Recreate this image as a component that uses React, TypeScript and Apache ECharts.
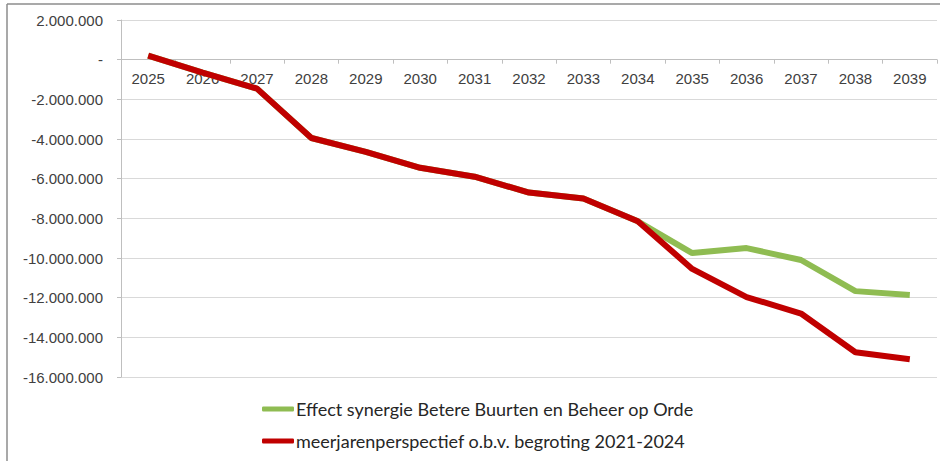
import React, { useEffect, useRef } from "react";
import * as echarts from "echarts";

const years = ["2025","2026","2027","2028","2029","2030","2031","2032","2033","2034","2035","2036","2037","2038","2039"];
const effectSynergie = [200000, -650000, -1460000, -3950000, -4650000, -5450000, -5900000, -6700000, -7000000, -8150000, -9750000, -9500000, -10100000, -11670000, -11870000];
const meerjarenperspectief = [200000, -650000, -1460000, -3950000, -4650000, -5450000, -5900000, -6700000, -7000000, -8150000, -10550000, -11970000, -12800000, -14750000, -15100000];
const seriesNames = ["Effect synergie Betere Buurten en Beheer op Orde", "meerjarenperspectief o.b.v. begroting 2021-2024"];

function fmt(v: number): string {
  if (v === 0) return "-";
  const s = Math.abs(v).toString().replace(/\B(?=(\d{3})+(?!\d))/g, ".");
  return (v < 0 ? "-" : "") + s;
}

export default function App() {
  const ref = useRef<HTMLDivElement>(null);
  useEffect(() => {
    if (!ref.current) return;
    const chart = echarts.init(ref.current, null, { renderer: "svg" });
    const axisFont = { fontFamily: "Liberation Sans, Arial, sans-serif", fontSize: 15, color: "#404040" };
    chart.setOption({
      animation: false,
      backgroundColor: "#ffffff",
      grid: { left: 121, right: 3, top: 20, bottom: 84, containLabel: false },
      graphic: [
        { type: "line", shape: { x1: 7, y1: 4, x2: 940, y2: 4 }, style: { stroke: "#8c8c8c", lineWidth: 1.5 } },
        { type: "line", shape: { x1: 7, y1: 4, x2: 7, y2: 461 }, style: { stroke: "#8c8c8c", lineWidth: 1.5 } },
      ],
      legend: {
        orient: "vertical",
        left: 262,
        top: 398,
        padding: 0,
        itemWidth: 32,
        itemHeight: 5,
        itemGap: 10,
        icon: "roundRect",
        textStyle: { fontFamily: "Lato, sans-serif", fontSize: 18, color: "#262626", lineHeight: 22, padding: [0, 0, 0, -3] },
        data: seriesNames,
      },
      xAxis: {
        type: "category",
        data: years,
        boundaryGap: true,
        offset: -317.3,
        axisLine: { show: true, onZero: false, lineStyle: { color: "#bfbfbf", width: 1 } },
        axisTick: { show: true, length: 4, lineStyle: { color: "#bfbfbf" } },
        axisLabel: { ...axisFont, margin: 11 },
        splitLine: { show: false },
      },
      yAxis: {
        type: "value",
        min: -16000000,
        max: 2000000,
        interval: 2000000,
        axisLine: { show: true, lineStyle: { color: "#bfbfbf", width: 1 } },
        axisTick: { show: true, length: 4, lineStyle: { color: "#bfbfbf" } },
        axisLabel: { ...axisFont, margin: 18, formatter: (v: number) => fmt(v) },
        splitLine: { show: true, lineStyle: { color: "#d9d9d9", width: 1 } },
      },
      series: [
        {
          name: seriesNames[0],
          type: "line",
          data: effectSynergie,
          symbol: "none",
          lineStyle: { width: 6, color: "#8fbc52" },
          itemStyle: { color: "#8fbc52" },
        },
        {
          name: seriesNames[1],
          type: "line",
          data: meerjarenperspectief,
          symbol: "none",
          lineStyle: { width: 6, color: "#c00000" },
          itemStyle: { color: "#c00000" },
        },
      ],
    });
    return () => chart.dispose();
  }, []);
  return <div ref={ref} style={{ position: "absolute", left: 0, top: 0, width: 940, height: 461 }} />;
}
